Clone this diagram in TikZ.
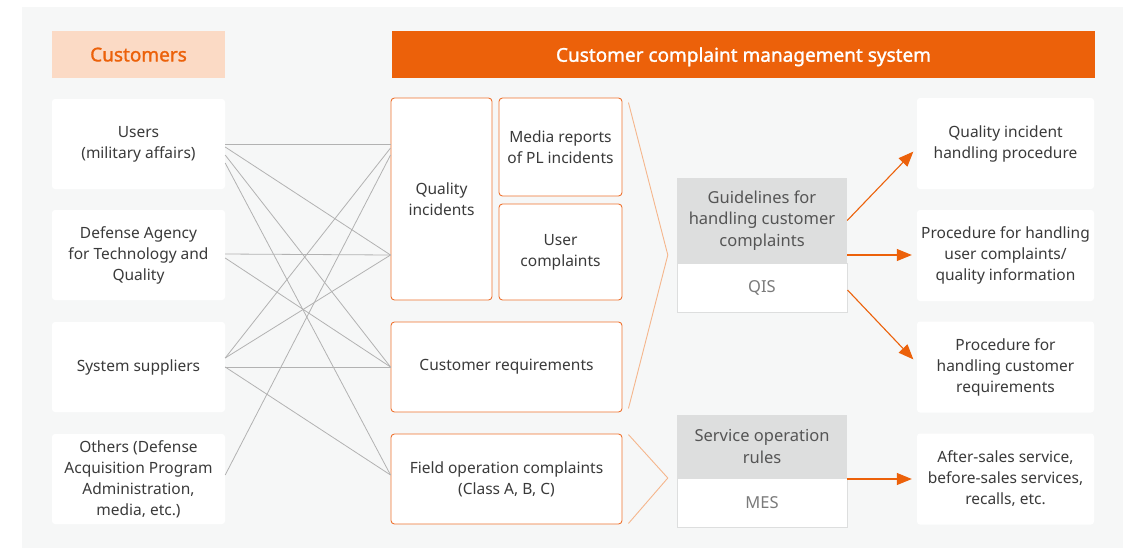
\documentclass[tikz,border=0pt]{standalone}
\usepackage{fontspec}
\setmainfont{Noto Sans}
\newfontfamily\headfont[FakeBold=1.4]{Noto Sans}
\usetikzlibrary{arrows.meta,calc}
\definecolor{bgc}{HTML}{F6F7F7}
\definecolor{orng}{HTML}{EC610A}
\definecolor{peach}{HTML}{FBDAC5}
\definecolor{txt}{HTML}{3A3A3A}
\definecolor{gtxt}{HTML}{555555}
\definecolor{ltxt}{HTML}{7A7A7A}
\definecolor{gfill}{HTML}{DDDEDE}
\definecolor{gline}{HTML}{B2B2B2}
\definecolor{fun}{HTML}{F5B68C}
\definecolor{obord}{HTML}{EE7330}
\tikzset{
  x=1pt,y=-1pt,
  body/.style={font=\fontsize{15.5}{21}\selectfont, text=txt, align=center, inner sep=0pt},
  wbox/.style={body, fill=white, rounded corners=3pt, minimum width=173pt, minimum height=90pt},
  rbox/.style={body, fill=white, rounded corners=3pt, minimum width=177pt, minimum height=91pt},
  obox/.style={body, fill=white, draw=obord, line width=0.9pt, rounded corners=3.5pt},
  gtop/.style={font=\fontsize{16.5}{21.5}\selectfont, text=gtxt, align=center, fill=gfill, inner sep=0pt, minimum width=170pt},
  gbot/.style={font=\fontsize{16.5}{21.5}\selectfont, text=ltxt, align=center, fill=white, draw=gfill, line width=1pt, inner sep=0pt, minimum width=170pt, minimum height=49pt},
  conn/.style={draw=gline, line width=0.8pt},
  funnel/.style={draw=fun, line width=0.9pt},
  oarrow/.style={draw=orng, line width=1.1pt, -{Triangle[length=15pt,width=12pt]}},
  hbox/.style={minimum height=47pt, inner sep=0pt, text depth=0pt},
}
\begin{document}
\begin{tikzpicture}
\useasboundingbox (0,0) rectangle (1144,550);
\fill[bgc] (22,7) rectangle (1123,548);

% headers
\node[hbox, fill=peach, minimum width=173pt, text=orng, font=\fontsize{19}{22}\headfont] (hc) at (138.5,54.5) {Customers};
\node[hbox, fill=orng, minimum width=703pt, text=white, font=\fontsize{19}{22}\headfont] (hs) at (743.5,54.5) {Customer complaint management system};

% customers
\node[wbox] (u) at (138.5,144) {Users\\(military affairs)};
\node[wbox] (d) at (138.5,255) {Defense Agency\\for Technology and\\Quality};
\node[wbox] (s) at (138.5,367) {System suppliers};
\node[wbox] (o) at (138.5,479) {Others (Defense\\Acquisition Program\\Administration,\\media, etc.)};

% complaint types
\node[obox, minimum width=101pt, minimum height=202pt] (qi) at (441.5,199) {Quality\\incidents};
\node[obox, minimum width=123pt, minimum height=98pt] (ma) at (560.5,147) {Media reports\\of PL incidents};
\node[obox, minimum width=123pt, minimum height=96pt] (uc) at (560.5,252) {User\\complaints};
\node[obox, minimum width=231pt, minimum height=90pt] (cr) at (506.5,367) {Customer requirements};
\node[obox, minimum width=231pt, minimum height=90pt] (fo) at (506.5,479) {Field operation complaints\\(Class A, B, C)};

% systems
\node[gtop, minimum height=85pt] (gd) at (762,220.5) {Guidelines for\\handling customer\\complaints};
\node[gbot] (qis) at (762,287.5) {QIS};
\node[gtop, minimum height=63pt] (so) at (762,446.5) {Service operation\\rules};
\node[gbot] (mes) at (762,502.5) {MES};

% procedures
\node[rbox] (r1) at (1005.5,143.5) {Quality incident\\handling procedure};
\node[rbox] (r2) at (1005.5,255.5) {Procedure for handling\\user complaints/\\quality information};
\node[rbox] (r3) at (1005.5,367) {Procedure for\\handling customer\\requirements};
\node[rbox] (r4) at (1005.5,479) {After-sales service,\\before-sales services,\\recalls, etc.};

% customer connectors
\draw[conn] (u.east) -- (qi.west |- u.east);
\draw[conn] ([yshift=-3pt]u.east) -- (qi.west |- d.east);
\draw[conn] ([yshift=-11pt]u.east) -- (cr.west);
\draw[conn] ([yshift=-19pt]u.east) -- ([yshift=4pt]fo.west);
\draw[conn] ([yshift=1pt]d.east) -- (qi.west |- d.east);
\draw[conn] ([yshift=-3pt]d.east) -- (cr.west);
\draw[conn] ([yshift=9pt]s.east) -- ([yshift=-4pt]qi.west |- u.east);
\draw[conn] ([yshift=9pt]s.east) -- (qi.west |- d.east);
\draw[conn] (s.east) -- (cr.west);
\draw[conn] (s.east) -- ([yshift=4pt]fo.west);
\draw[conn] ([yshift=4pt]o.east) -- ([yshift=-11pt]qi.west |- u.east);

% funnels
\draw[funnel] ([shift={(6pt,-5pt)}]ma.north east) -- ([xshift=-9pt,yshift=-34.5pt]gd.west) -- ([shift={(6pt,4pt)}]cr.south east);
\draw[funnel] ([shift={(6pt,-1pt)}]fo.north east) -- ([xshift=-9pt,yshift=-31.5pt]so.west) -- ([shift={(6pt,1pt)}]fo.south east);

% arrows
\draw[oarrow, shorten >=5pt] (gd.east) -- ([yshift=-4.5pt]r1.west);
\draw[oarrow, shorten >=5pt] ([yshift=-34.5pt]gd.east) -- ([yshift=0.5pt]r2.west);
\draw[oarrow, shorten >=5pt] ([yshift=-2.5pt]qis.east) -- ([yshift=4pt]r3.west);
\draw[oarrow, shorten >=5pt] ([yshift=-32.5pt]so.east) -- (r4.west);
\end{tikzpicture}
\end{document}
